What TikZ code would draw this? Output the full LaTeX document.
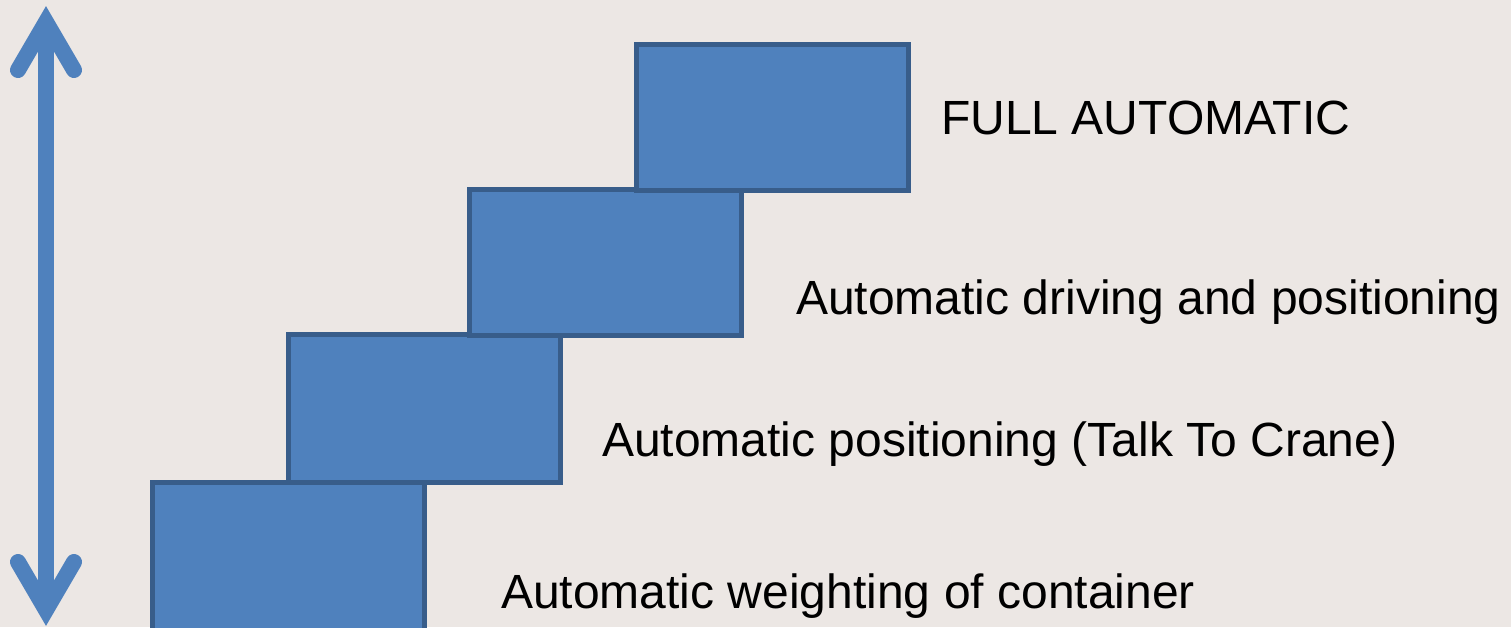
\documentclass[tikz,border=0pt]{standalone}
\usepackage{fontspec}
\setmainfont{Liberation Sans}
\usetikzlibrary{positioning}

\definecolor{slidebg}{HTML}{ECE7E4}
\definecolor{stairfill}{HTML}{4F81BD}
\definecolor{stairline}{HTML}{385D8A}

\begin{document}
\begin{tikzpicture}[
    x=1pt, y=-1pt,
    stair/.style={draw=stairline, fill=stairfill, line width=5pt, inner sep=0pt, outer sep=0pt,
        minimum width=272pt, minimum height=146pt, anchor=north west},
    level/.style={anchor=base west, inner sep=0pt, font=\fontsize{48}{58}\selectfont},
    shaft/.style={draw=stairfill, line width=16pt},
    barb/.style={draw=stairfill, line width=16pt, line cap=round, line join=miter}
]
    % Background
    \fill[slidebg] (0,0) rectangle (1511,627);
    \useasboundingbox (0,0) rectangle (1511,627);
    \clip (0,0) rectangle (1511,627);

    % === Stairs ===
    \node[stair, minimum height=170pt] (s1) at (152.5,482.5) {};
    \node[stair, minimum height=148pt] (s2) at (288,334) {};
    \node[stair] (s3) at (469.5,189) {};
    \node[stair] (s4) at (636.5,44) {};

    % Labels
    \node[level] (l4) at (941,134) {FULL AUTOMATIC};
    \node[level] (l3) at (796,314) {Automatic driving and positioning};
    \node[level] (l2) at (602,456) {Automatic positioning (Talk To Crane)};
    \node[level] (l1) at (501,608) {Automatic weighting of container};

    % === Double arrow ===
    \coordinate (top) at (46,22);
    \coordinate (bot) at (46,610);
    \draw[shaft] (top) -- (bot);
    \draw[barb] ([shift={(-28,48)}]top) -- (top) -- ([shift={(28,48)}]top);
    \draw[barb] ([shift={(-28,-48)}]bot) -- (bot) -- ([shift={(28,-48)}]bot);

\end{tikzpicture}
\end{document}
